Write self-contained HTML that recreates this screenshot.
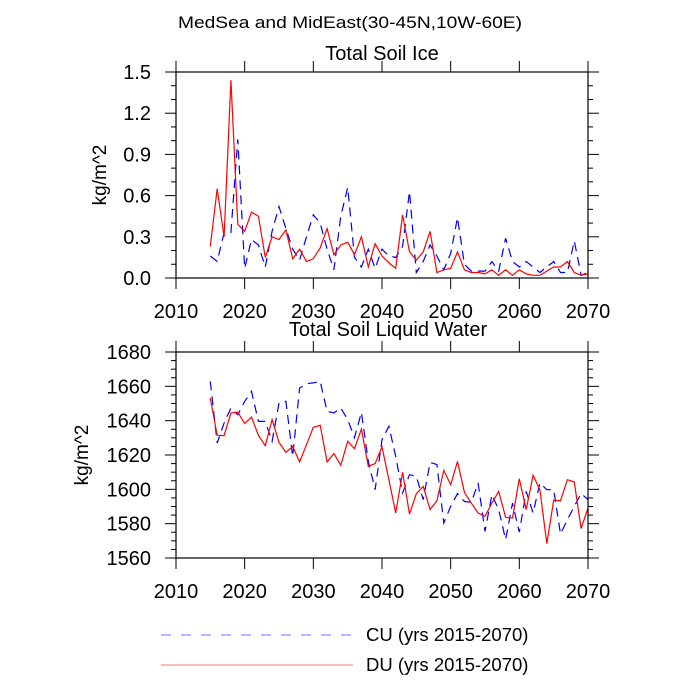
<!DOCTYPE html>
<html><head><meta charset="utf-8"><style>
html,body{margin:0;padding:0;background:#fff;}
svg{display:block;font-family:"Liberation Sans",Arial,sans-serif;}
</style></head><body>
<svg id="chart" width="700" height="700" viewBox="0 0 700 700">
<text x="350" y="28" font-size="17" text-anchor="middle" textLength="344" lengthAdjust="spacingAndGlyphs">MedSea and MidEast(30-45N,10W-60E)</text>
<text x="382" y="60" font-size="20" text-anchor="middle">Total Soil Ice</text>
<text x="388" y="336" font-size="20" text-anchor="middle">Total Soil Liquid Water</text>
<text transform="translate(106,175) rotate(-90)" font-size="19" text-anchor="middle">kg/m^2</text>
<text transform="translate(88,455) rotate(-90)" font-size="19" text-anchor="middle">kg/m^2</text>
<g id="p1"></g>
<g id="p2"></g>
<g>
<line x1="161" y1="635" x2="353" y2="635" stroke="#0000ff" stroke-opacity="0.55" stroke-width="1" stroke-dasharray="10,10"/>
<text x="366" y="641" font-size="18.5">CU (yrs 2015-2070)</text>
<line x1="161" y1="665" x2="353" y2="665" stroke="#ff0000" stroke-opacity="0.55" stroke-width="1"/>
<text x="366" y="671" font-size="18.5">DU (yrs 2015-2070)</text>
</g>
</svg>
<script>
const startYear = 2015;
const iceDU = [0.23,0.65,0.30,1.44,0.39,0.34,0.48,0.45,0.15,0.30,0.28,0.35,0.14,0.21,0.12,0.14,0.22,0.36,0.17,0.24,0.26,0.17,0.30,0.08,0.25,0.16,0.11,0.07,0.46,0.19,0.13,0.19,0.34,0.04,0.06,0.07,0.19,0.06,0.04,0.04,0.03,0.06,0.02,0.06,0.02,0.06,0.03,0.02,0.02,0.05,0.08,0.08,0.12,0.04,0.02,0.03];
const iceCU = [0.16,0.12,0.33,0.33,1.01,0.07,0.28,0.24,0.08,0.34,0.52,0.36,0.21,0.13,0.30,0.46,0.40,0.21,0.06,0.45,0.66,0.15,0.08,0.21,0.07,0.21,0.16,0.15,0.23,0.63,0.04,0.12,0.24,0.16,0.06,0.18,0.44,0.10,0.05,0.05,0.05,0.12,0.05,0.29,0.12,0.08,0.12,0.08,0.04,0.08,0.12,0.04,0.04,0.27,0.02,0.04];
const waterDU = [1653.2,1631.5,1631.3,1644.5,1644.9,1638.3,1642.1,1631.5,1625.4,1640.6,1627.4,1621.6,1625.0,1616,1626,1636.1,1637.3,1616,1620.8,1614,1628,1623.7,1635.1,1613.4,1615,1624.7,1605.6,1586.2,1610,1585.6,1597.4,1601.7,1588.2,1593.4,1611,1602.7,1616.3,1598.3,1592,1586.2,1584.3,1592,1598.8,1583.7,1583.3,1606.2,1588.2,1608.2,1599.8,1568.4,1593.6,1593.4,1605.6,1604.3,1577.1,1589.1];
const waterCU = [1662.9,1627,1638.6,1647.4,1643.5,1651.3,1657.1,1639.6,1639.6,1628,1650.3,1651.3,1619.2,1659,1661.6,1662,1662.9,1645.4,1644.5,1647.4,1640.6,1630,1644.9,1616.3,1599.8,1628.9,1636.7,1619.2,1597.9,1608.5,1607.6,1594,1615.7,1614.4,1580.4,1590.1,1597.5,1593,1592.4,1603.7,1575.5,1596.9,1588.2,1570.7,1592,1575.1,1598.8,1586.2,1603.7,1599.8,1599.8,1574,1582.3,1590.1,1597.5,1594];
const xTicks = [2010,2020,2030,2040,2050,2060,2070];
const iceTicks = ["0.0","0.3","0.6","0.9","1.2","1.5"];
const waterTicks = ["1560","1580","1600","1620","1640","1660","1680"];

const NS="http://www.w3.org/2000/svg";
function mk(tag,attrs,parent){const e=document.createElementNS(NS,tag);for(const k in attrs)e.setAttribute(k,attrs[k]);parent.appendChild(e);return e;}

function panel(g,top,bot,ymin,ymax,ticks,minorStep,majorStep,du,cu,prefix){
  const L=176,R=588;
  const xs=y=>L+(y-2010)/60*(R-L);
  const ys=v=>bot-(v-ymin)/(ymax-ymin)*(bot-top);
  for(let v=ymin;v<=ymax+1e-9;v+=minorStep){
    const y=ys(v);const isMaj=Math.abs(Math.round(v/majorStep)*majorStep-v)<1e-6;
    const len=isMaj?11:5;
    const t1=mk('line',{x1:L-len,x2:L,y1:y,y2:y,stroke:'#000','stroke-width':1},g);
    
    
    const t2=mk('line',{x1:R,x2:R+len,y1:y,y2:y,stroke:'#000','stroke-width':1},g);
    
    
  }
  ticks.forEach(s=>{
    const v=parseFloat(s);
    const t=mk('text',{x:151,y:ys(v)+7,'font-size':20,'text-anchor':'end'},g);t.textContent=s;
    
    
  });
  xTicks.forEach(yr=>{
    const x=xs(yr);
    const a=mk('line',{x1:x,x2:x,y1:bot,y2:bot+11,stroke:'#000','stroke-width':1},g);
    
    
    const b=mk('line',{x1:x,x2:x,y1:top-11,y2:top,stroke:'#000','stroke-width':1},g);
    
    
    const t=mk('text',{x:x,y:bot+40,'font-size':20,'text-anchor':'middle'},g);t.textContent=yr;
    
    
  });
  const pts=arr=>arr.map((v,i)=>xs(startYear+i).toFixed(1)+','+ys(v).toFixed(1)).join(' ');
  const c=mk('polyline',{points:pts(cu),fill:'none',stroke:'#0000ff','stroke-width':1.2,'stroke-dasharray':'9,6'},g);
  
  
  const d=mk('polyline',{points:pts(du),fill:'none',stroke:'#ff0000','stroke-width':1.2},g);
  
  
  const f=mk('rect',{x:L,y:top,width:R-L,height:bot-top,fill:'none',stroke:'#000','stroke-width':1.2},g);
  
  
}
panel(document.getElementById('p1'),72,278,0,1.5,iceTicks,0.1,0.3,iceDU,iceCU,'ice');
panel(document.getElementById('p2'),352,558,1560,1680,waterTicks,5,20,waterDU,waterCU,'water');
</script>
</body></html>
